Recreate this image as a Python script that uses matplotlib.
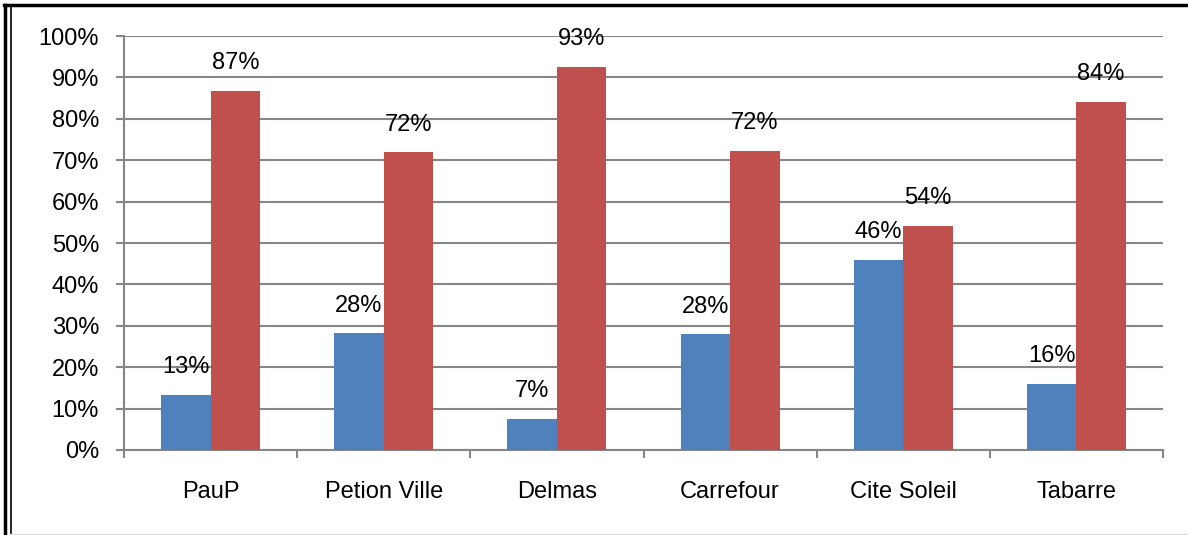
import numpy as np
import matplotlib.pyplot as plt
from matplotlib.lines import Line2D

categories = ['PauP', 'Petion Ville', 'Delmas', 'Carrefour', 'Cite Soleil', 'Tabarre']
blue_vals = [13.3, 28.2, 7.5, 27.9, 45.9, 16.0]
red_vals = [86.8, 71.9, 92.6, 72.2, 54.1, 84.1]
blue_labels = ['13%', '28%', '7%', '28%', '46%', '16%']
red_labels = ['87%', '72%', '93%', '72%', '54%', '84%']
yticks = [0, 10, 20, 30, 40, 50, 60, 70, 80, 90, 100]

plt.rcParams['font.family'] = ['Liberation Sans', 'DejaVu Sans']
fs = 17
grey = '#868686'

fig = plt.figure(figsize=(11.88, 5.35), dpi=100)
ax = fig.add_axes([124 / 1188, 1 - 450 / 535, (1163 - 124) / 1188, (450 - 36) / 535])

x = np.arange(len(categories))
w = 1 / 3.5
b1 = ax.bar(x - w / 2, blue_vals, w, color='#4F81BD', zorder=3)
b2 = ax.bar(x + w / 2, red_vals, w, color='#C0504D', zorder=3)

for rect, lab in zip(b1, blue_labels):
    ax.annotate(lab, (rect.get_x() + rect.get_width() / 2, rect.get_height()),
                xytext=(0, 12), textcoords='offset points', ha='center', va='bottom',
                fontsize=fs, zorder=4)
for rect, lab in zip(b2, red_labels):
    ax.annotate(lab, (rect.get_x() + rect.get_width() / 2, rect.get_height()),
                xytext=(0, 12), textcoords='offset points', ha='center', va='bottom',
                fontsize=fs, zorder=4)

ax.set_xlim(-0.5, len(categories) - 0.5)
ax.set_ylim(0, 100)
ax.set_yticks(yticks)
ax.set_yticklabels([f'{v}%' for v in yticks], fontsize=fs)
ax.yaxis.grid(True, color=grey, linewidth=1.5, zorder=0)
ax.set_axisbelow(True)

ax.set_xticks(x)
ax.set_xticklabels(categories, fontsize=fs)
ax.set_xticks(np.arange(-0.5, len(categories)), minor=True)
ax.tick_params(axis='x', which='major', length=0, pad=22)
ax.tick_params(axis='x', which='minor', length=6, width=1.5, color=grey, direction='out')
ax.tick_params(axis='y', length=6, width=1.5, color=grey, pad=12)

for s in ['top', 'right']:
    ax.spines[s].set_visible(False)
for s in ['left', 'bottom']:
    ax.spines[s].set_color(grey)
    ax.spines[s].set_linewidth(1.5)

# outer frame
W, H = 1188, 535
fig.add_artist(Line2D([5 / W, 5 / W], [0, 1 - 5 / H], color='black', lw=2.5, transform=fig.transFigure))
fig.add_artist(Line2D([10.5 / W, 10.5 / W], [0, 1 - 7 / H], color='black', lw=1.2, transform=fig.transFigure))
fig.add_artist(Line2D([4 / W, 1], [1 - 5 / H, 1 - 5 / H], color='black', lw=2.5, transform=fig.transFigure))
fig.add_artist(Line2D([10 / W, 1], [1 / H, 1 / H], color='#dddddd', lw=1, transform=fig.transFigure))

fig.savefig('out.png', dpi=100)
